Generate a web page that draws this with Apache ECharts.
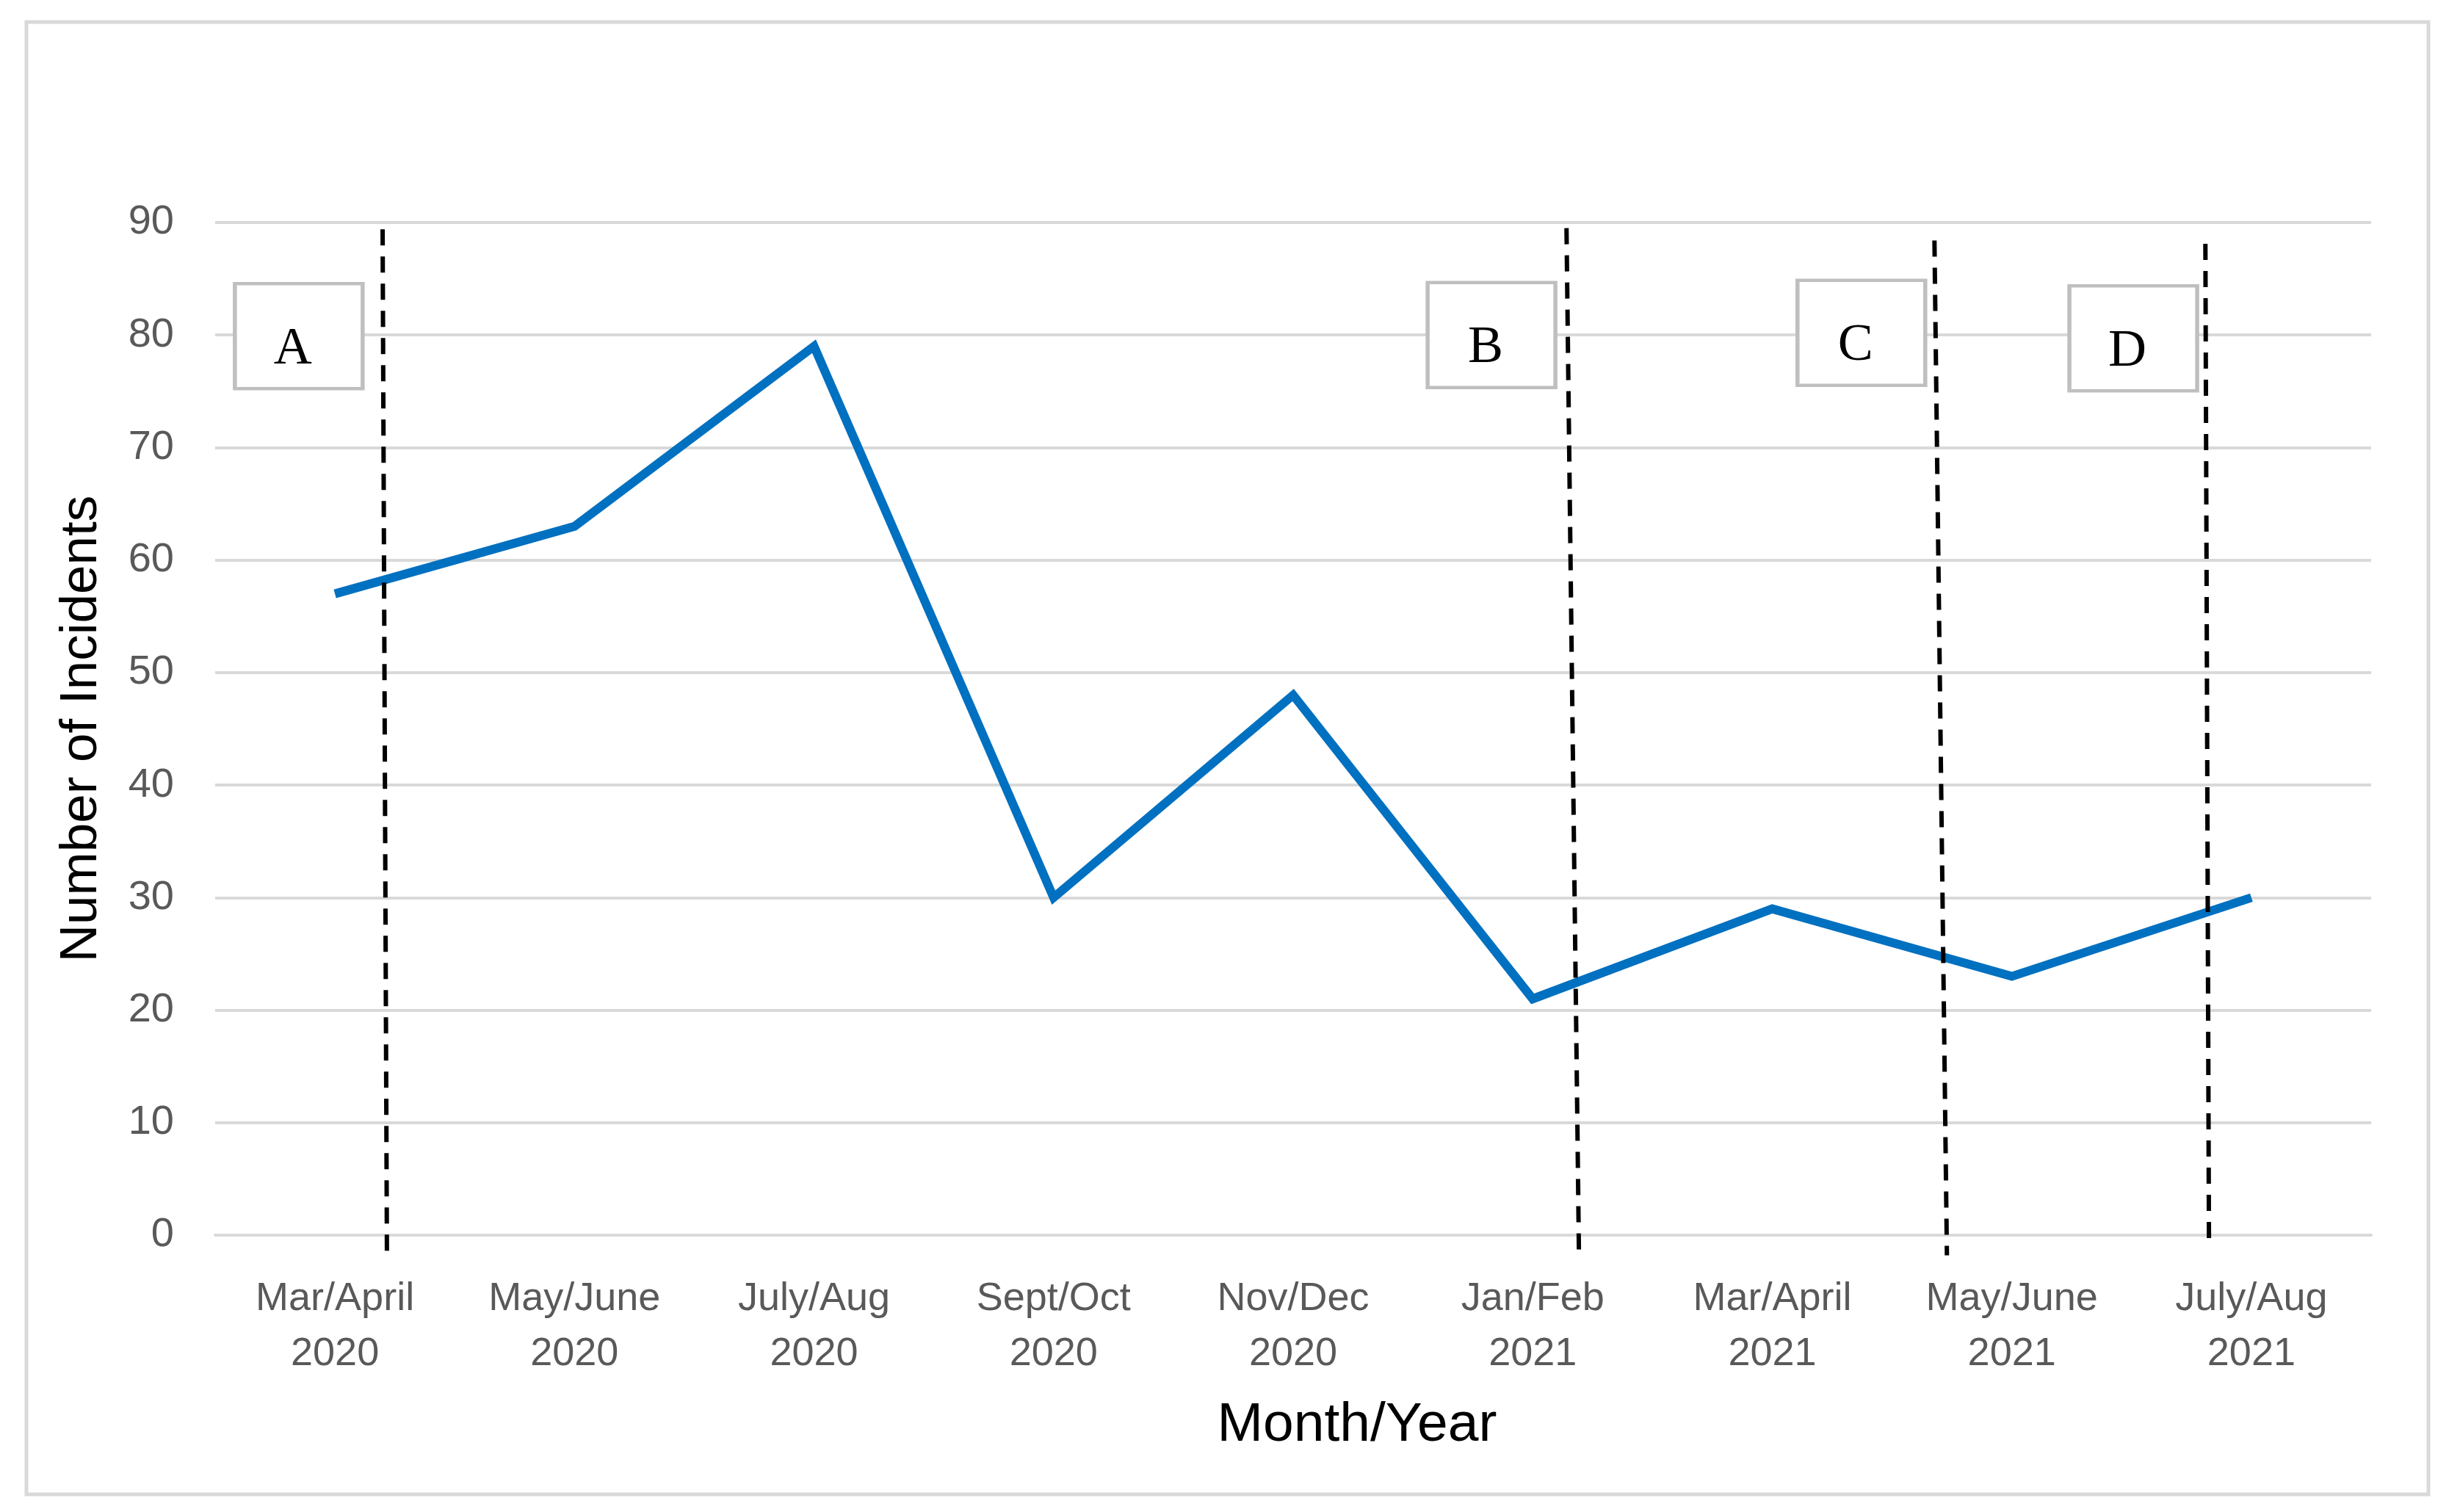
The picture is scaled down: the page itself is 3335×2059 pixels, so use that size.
<!DOCTYPE html>
<html>
<head>
<meta charset="utf-8">
<script src="https://cdn.jsdelivr.net/npm/echarts@6/dist/echarts.min.js"></script>
<style>
  html, body { margin: 0; padding: 0; background: #ffffff; }
  #chart { width: 3335px; height: 2059px; }
</style>
</head>
<body>
<div id="chart"></div>
<script>
// ---- data ----
const categories = [
  'Mar/April\n2020', 'May/June\n2020', 'July/Aug\n2020', 'Sept/Oct\n2020',
  'Nov/Dec\n2020', 'Jan/Feb\n2021', 'Mar/April\n2021', 'May/June\n2021', 'July/Aug\n2021'
];
const incidents = [57, 63, 79, 30, 48, 21, 29, 23, 30];
const yMin = 0;
const yMax = 90;
const yStep = 10;

// phase annotations (category-index units on x, incidents on y)
const phaseLabels = ['A', 'B', 'C', 'D'];
const phaseBoxX = [-0.151, 4.828, 6.372, 7.507];
const phaseBoxY = [79.9, 80.0, 80.2, 79.7];
const dividerTop = [[0.199, 89.4], [5.141, 89.5], [6.677, 88.4], [7.808, 88.1]];
const dividerBottom = [[0.217, -1.6], [5.193, -1.7], [6.729, -1.8], [7.823, -1.2]];

// ---- chart ----
const chart = echarts.init(document.getElementById('chart'), null, { renderer: 'canvas' });
const sansFont = '"Liberation Sans", Arial, sans-serif';
const gridLineColor = '#d9d9d9';

const dividerSeries = dividerTop.map((top, i) => ({
  type: 'line',
  xAxisIndex: 1,
  yAxisIndex: 0,
  data: [top, dividerBottom[i]],
  symbol: 'none',
  clip: false,
  silent: true,
  z: 5,
  lineStyle: { color: '#000000', width: 6, type: [22, 15] }
}));

const option = {
  animation: false,
  backgroundColor: '#ffffff',
  graphic: [{
    type: 'rect',
    shape: { x: 36, y: 30, width: 3271, height: 2005 },
    style: { fill: 'none', stroke: gridLineColor, lineWidth: 5 },
    silent: true
  }],
  grid: { left: 293, right: 106, top: 303, bottom: 377, containLabel: false },
  xAxis: [{
    type: 'category',
    data: categories,
    boundaryGap: true,
    axisLine: { show: true, lineStyle: { color: gridLineColor, width: 4 } },
    axisTick: { show: false },
    splitLine: { show: false },
    axisLabel: {
      interval: 0,
      margin: 50,
      color: '#595959',
      fontFamily: sansFont,
      fontSize: 54,
      lineHeight: 75
    },
    name: 'Month/Year',
    nameLocation: 'middle',
    nameGap: 222,
    nameTextStyle: {
      color: '#000000',
      fontFamily: sansFont,
      fontSize: 75,
      padding: [0, 0, 0, 174]
    }
  }, {
    type: 'value',
    min: -0.5,
    max: 8.5,
    show: false,
    splitLine: { show: false }
  }],
  yAxis: [{
    type: 'value',
    min: yMin,
    max: yMax,
    interval: yStep,
    axisLine: { show: false },
    axisTick: { show: false },
    splitLine: { show: true, lineStyle: { color: gridLineColor, width: 4 } },
    axisLabel: {
      margin: 56,
      color: '#595959',
      fontFamily: sansFont,
      fontSize: 56
    },
    name: 'Number of Incidents',
    nameLocation: 'middle',
    nameGap: 146,
    nameTextStyle: {
      color: '#000000',
      fontFamily: sansFont,
      fontSize: 71
    }
  }],
  series: [{
    name: 'Incidents',
    type: 'line',
    xAxisIndex: 0,
    yAxisIndex: 0,
    data: incidents,
    symbol: 'none',
    smooth: false,
    z: 3,
    lineStyle: { color: '#0070C0', width: 12, cap: 'butt', join: 'miter' }
  }, {
    type: 'scatter',
    xAxisIndex: 1,
    yAxisIndex: 0,
    data: phaseLabels.map((lab, i) => [phaseBoxX[i], phaseBoxY[i], lab]),
    symbol: 'rect',
    symbolSize: [174, 143],
    clip: false,
    silent: true,
    z: 4,
    itemStyle: { color: '#ffffff', borderColor: '#bfbfbf', borderWidth: 5, opacity: 1 },
    label: {
      show: true,
      position: 'inside',
      offset: [-8, 18],
      formatter: p => p.value[2],
      color: '#000000',
      fontFamily: '"Liberation Serif", "Times New Roman", serif',
      fontSize: 72
    }
  }].concat(dividerSeries)
};
chart.setOption(option);
</script>
</body>
</html>
